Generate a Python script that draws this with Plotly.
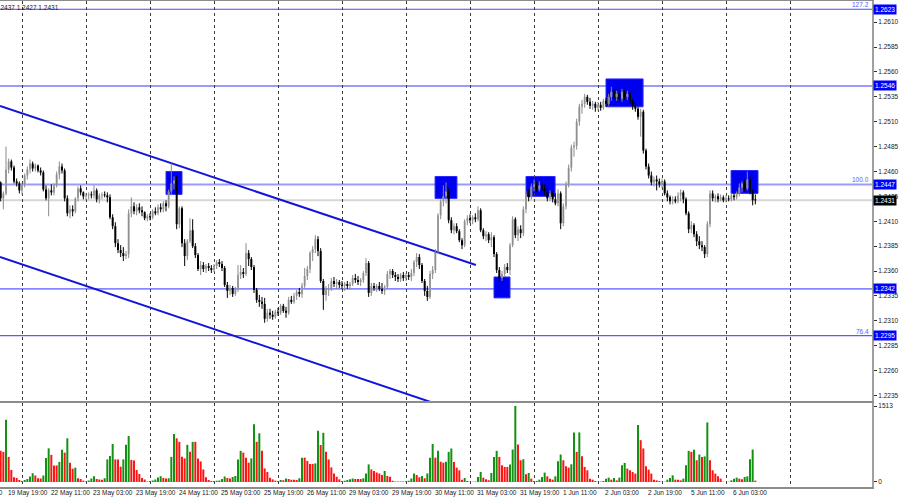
import plotly.graph_objects as go

# ---------------- data (hourly bars, index 0 = 19 May 16:00) ----------------
bars = list(range(285))

opens = [
    1.2452, 1.2449, 1.2433, 1.2438, 1.2462, 1.2470, 1.2464, 1.2450, 1.2448, 1.2441,
    1.2447, 1.2456, 1.2462, 1.2468, 1.2463, 1.2466, 1.2461, 1.2459, 1.2442, 1.2433,
    1.2441, 1.2439, 1.2446, 1.2457, 1.2465, 1.2461, 1.2433, 1.2418, 1.2422, 1.2420,
    1.2433, 1.2443, 1.2439, 1.2435, 1.2436, 1.2437, 1.2436, 1.2441, 1.2432, 1.2436,
    1.2437, 1.2436, 1.2434, 1.2414, 1.2405, 1.2388, 1.2381, 1.2378, 1.2375, 1.2377,
    1.2418, 1.2425, 1.2420, 1.2424, 1.2421, 1.2419, 1.2413, 1.2415, 1.2414, 1.2420,
    1.2418, 1.2424, 1.2422, 1.2428, 1.2425, 1.2440, 1.2448, 1.2451, 1.2407, 1.2423,
    1.2388, 1.2375, 1.2390, 1.2401, 1.2385, 1.2376, 1.2362, 1.2366, 1.2362, 1.2365,
    1.2363, 1.2361, 1.2365, 1.2369, 1.2367, 1.2363, 1.2346, 1.2340, 1.2343, 1.2337,
    1.2341, 1.2356, 1.2359, 1.2357, 1.2378, 1.2372, 1.2364, 1.2341, 1.2331, 1.2329,
    1.2327, 1.2312, 1.2318, 1.2316, 1.2314, 1.2319, 1.2318, 1.2325, 1.2320, 1.2318,
    1.2331, 1.2329, 1.2335, 1.2339, 1.2337, 1.2345, 1.2355, 1.2362, 1.2378, 1.2382,
    1.2392, 1.2380, 1.2350, 1.2336, 1.2341, 1.2343, 1.2350, 1.2347, 1.2349, 1.2346,
    1.2345, 1.2347, 1.2345, 1.2347, 1.2353, 1.2351, 1.2349, 1.2351, 1.2358, 1.2368,
    1.2338, 1.2345, 1.2343, 1.2345, 1.2342, 1.2340, 1.2344, 1.2357, 1.2360, 1.2356,
    1.2354, 1.2352, 1.2356, 1.2353, 1.2356, 1.2354, 1.2358, 1.2369, 1.2374, 1.2366,
    1.2350, 1.2340, 1.2334, 1.2357, 1.2361, 1.2380, 1.2416, 1.2430, 1.2435, 1.2440,
    1.2411, 1.2401, 1.2405, 1.2400, 1.2391, 1.2386, 1.2410, 1.2413, 1.2411, 1.2414,
    1.2412, 1.2421, 1.2401, 1.2395, 1.2397, 1.2391, 1.2394, 1.2377, 1.2361, 1.2353,
    1.2357, 1.2364, 1.2361, 1.2386, 1.2412, 1.2396, 1.2402, 1.2398, 1.2422, 1.2437,
    1.2434, 1.2445, 1.2447, 1.2442, 1.2446, 1.2443, 1.2440, 1.2433, 1.2438, 1.2432,
    1.2428, 1.2438, 1.2408, 1.2425, 1.2447, 1.2464, 1.2484, 1.2486, 1.2510, 1.2525,
    1.2528, 1.2535, 1.2530, 1.2526, 1.2528, 1.2524, 1.2527, 1.2524, 1.2531, 1.2528,
    1.2535, 1.2540, 1.2535, 1.2538, 1.2533, 1.2540, 1.2535, 1.2538, 1.2531, 1.2526,
    1.2523, 1.2515, 1.2520, 1.2481, 1.2465, 1.2456, 1.2449, 1.2452, 1.2450, 1.2447,
    1.2450, 1.2438, 1.2434, 1.2430, 1.2432, 1.2430, 1.2436, 1.2439, 1.2432, 1.2418,
    1.2402, 1.2406, 1.2397, 1.2390, 1.2386, 1.2384, 1.2377, 1.2407, 1.2438, 1.2433,
    1.2435, 1.2432, 1.2434, 1.2431, 1.2433, 1.2432, 1.2436, 1.2434, 1.2438, 1.2444,
    1.2448, 1.2443, 1.2452, 1.2440, 1.2432,
]

highs = [
    1.2456, 1.2450, 1.2440, 1.2485, 1.2473, 1.2472, 1.2466, 1.2453, 1.2450, 1.2448,
    1.2458, 1.2465, 1.2472, 1.2470, 1.2468, 1.2467, 1.2464, 1.2461, 1.2446, 1.2443,
    1.2447, 1.2448, 1.2460, 1.2470, 1.2468, 1.2463, 1.2436, 1.2426, 1.2426, 1.2434,
    1.2445, 1.2446, 1.2440, 1.2438, 1.2439, 1.2440, 1.2446, 1.2443, 1.2438, 1.2439,
    1.2440, 1.2439, 1.2437, 1.2417, 1.2409, 1.2392, 1.2386, 1.2384, 1.2380, 1.2422,
    1.2434, 1.2429, 1.2427, 1.2428, 1.2425, 1.2420, 1.2417, 1.2418, 1.2422, 1.2424,
    1.2427, 1.2428, 1.2430, 1.2431, 1.2442, 1.2468, 1.2455, 1.2456, 1.2425, 1.2425,
    1.2392, 1.2392, 1.2413, 1.2412, 1.2388, 1.2378, 1.2370, 1.2369, 1.2367, 1.2368,
    1.2366, 1.2367, 1.2371, 1.2372, 1.2370, 1.2365, 1.2349, 1.2346, 1.2345, 1.2344,
    1.2366, 1.2366, 1.2363, 1.2388, 1.2381, 1.2374, 1.2366, 1.2343, 1.2336, 1.2334,
    1.2333, 1.2322, 1.2322, 1.2320, 1.2321, 1.2323, 1.2327, 1.2327, 1.2324, 1.2334,
    1.2335, 1.2338, 1.2341, 1.2343, 1.2348, 1.2363, 1.2365, 1.2380, 1.2385, 1.2396,
    1.2395, 1.2383, 1.2352, 1.2345, 1.2347, 1.2353, 1.2354, 1.2352, 1.2351, 1.2350,
    1.2349, 1.2350, 1.2349, 1.2356, 1.2357, 1.2355, 1.2353, 1.2360, 1.2373, 1.2370,
    1.2348, 1.2348, 1.2347, 1.2349, 1.2348, 1.2346, 1.2360, 1.2362, 1.2362, 1.2359,
    1.2357, 1.2358, 1.2359, 1.2358, 1.2359, 1.2362, 1.2371, 1.2378, 1.2377, 1.2368,
    1.2352, 1.2345, 1.2360, 1.2365, 1.2382, 1.2418, 1.2432, 1.2446, 1.2449, 1.2443,
    1.2414, 1.2408, 1.2408, 1.2402, 1.2393, 1.2412, 1.2416, 1.2417, 1.2416, 1.2418,
    1.2425, 1.2423, 1.2403, 1.2400, 1.2399, 1.2399, 1.2396, 1.2379, 1.2364, 1.2360,
    1.2367, 1.2368, 1.2388, 1.2415, 1.2414, 1.2405, 1.2406, 1.2425, 1.2440, 1.2442,
    1.2448, 1.2452, 1.2450, 1.2450, 1.2449, 1.2447, 1.2444, 1.2441, 1.2440, 1.2438,
    1.2442, 1.2440, 1.2428, 1.2450, 1.2467, 1.2487, 1.2490, 1.2513, 1.2528, 1.2532,
    1.2538, 1.2537, 1.2534, 1.2531, 1.2530, 1.2530, 1.2530, 1.2533, 1.2534, 1.2538,
    1.2545, 1.2543, 1.2541, 1.2542, 1.2543, 1.2542, 1.2541, 1.2540, 1.2533, 1.2530,
    1.2525, 1.2523, 1.2522, 1.2483, 1.2468, 1.2460, 1.2455, 1.2456, 1.2453, 1.2453,
    1.2452, 1.2441, 1.2436, 1.2435, 1.2435, 1.2439, 1.2442, 1.2441, 1.2434, 1.2420,
    1.2410, 1.2408, 1.2400, 1.2395, 1.2390, 1.2386, 1.2410, 1.2441, 1.2441, 1.2437,
    1.2438, 1.2437, 1.2436, 1.2436, 1.2436, 1.2438, 1.2438, 1.2440, 1.2448, 1.2450,
    1.2452, 1.2460, 1.2455, 1.2442, 1.2437,
]

lows = [
    1.2446, 1.2430, 1.2422, 1.2436, 1.2458, 1.2461, 1.2448, 1.2445, 1.2438, 1.2437,
    1.2444, 1.2452, 1.2458, 1.2460, 1.2460, 1.2459, 1.2456, 1.2440, 1.2431, 1.2415,
    1.2436, 1.2436, 1.2444, 1.2452, 1.2458, 1.2430, 1.2415, 1.2413, 1.2415, 1.2418,
    1.2430, 1.2436, 1.2432, 1.2431, 1.2432, 1.2433, 1.2433, 1.2429, 1.2428, 1.2432,
    1.2434, 1.2429, 1.2412, 1.2402, 1.2384, 1.2378, 1.2374, 1.2370, 1.2372, 1.2373,
    1.2414, 1.2417, 1.2416, 1.2418, 1.2415, 1.2411, 1.2410, 1.2411, 1.2412, 1.2416,
    1.2416, 1.2419, 1.2419, 1.2420, 1.2423, 1.2436, 1.2442, 1.2402, 1.2403, 1.2384,
    1.2365, 1.2371, 1.2388, 1.2383, 1.2373, 1.2360, 1.2356, 1.2359, 1.2358, 1.2360,
    1.2358, 1.2359, 1.2362, 1.2364, 1.2360, 1.2344, 1.2333, 1.2336, 1.2334, 1.2335,
    1.2339, 1.2352, 1.2353, 1.2355, 1.2365, 1.2361, 1.2338, 1.2328, 1.2324, 1.2322,
    1.2308, 1.2309, 1.2312, 1.2311, 1.2312, 1.2315, 1.2316, 1.2318, 1.2313, 1.2316,
    1.2327, 1.2327, 1.2331, 1.2334, 1.2333, 1.2343, 1.2351, 1.2358, 1.2370, 1.2378,
    1.2375, 1.2348, 1.2321, 1.2330, 1.2335, 1.2340, 1.2344, 1.2342, 1.2343, 1.2342,
    1.2340, 1.2342, 1.2341, 1.2345, 1.2348, 1.2346, 1.2345, 1.2348, 1.2355, 1.2334,
    1.2335, 1.2340, 1.2339, 1.2340, 1.2337, 1.2336, 1.2342, 1.2352, 1.2353, 1.2350,
    1.2349, 1.2349, 1.2350, 1.2350, 1.2351, 1.2350, 1.2355, 1.2364, 1.2362, 1.2348,
    1.2335, 1.2330, 1.2332, 1.2352, 1.2358, 1.2377, 1.2412, 1.2425, 1.2428, 1.2408,
    1.2398, 1.2397, 1.2398, 1.2389, 1.2382, 1.2384, 1.2406, 1.2408, 1.2407, 1.2409,
    1.2410, 1.2399, 1.2392, 1.2390, 1.2388, 1.2384, 1.2374, 1.2358, 1.2350, 1.2350,
    1.2354, 1.2358, 1.2356, 1.2384, 1.2393, 1.2390, 1.2393, 1.2395, 1.2418, 1.2430,
    1.2432, 1.2440, 1.2439, 1.2440, 1.2440, 1.2436, 1.2430, 1.2430, 1.2429, 1.2426,
    1.2425, 1.2402, 1.2405, 1.2422, 1.2444, 1.2460, 1.2475, 1.2482, 1.2506, 1.2518,
    1.2524, 1.2527, 1.2523, 1.2522, 1.2520, 1.2521, 1.2521, 1.2522, 1.2525, 1.2526,
    1.2531, 1.2532, 1.2531, 1.2530, 1.2530, 1.2532, 1.2532, 1.2528, 1.2522, 1.2520,
    1.2512, 1.2495, 1.2478, 1.2462, 1.2453, 1.2446, 1.2445, 1.2441, 1.2444, 1.2443,
    1.2436, 1.2430, 1.2427, 1.2427, 1.2428, 1.2428, 1.2430, 1.2428, 1.2416, 1.2398,
    1.2398, 1.2394, 1.2385, 1.2382, 1.2380, 1.2373, 1.2374, 1.2404, 1.2430, 1.2429,
    1.2429, 1.2430, 1.2429, 1.2429, 1.2430, 1.2430, 1.2431, 1.2432, 1.2435, 1.2439,
    1.2440, 1.2441, 1.2437, 1.2426, 1.2427,
]

closes = [
    1.2449, 1.2433, 1.2438, 1.2462, 1.2470, 1.2464, 1.2450, 1.2448, 1.2441, 1.2447,
    1.2456, 1.2462, 1.2468, 1.2463, 1.2466, 1.2461, 1.2459, 1.2442, 1.2433, 1.2441,
    1.2439, 1.2446, 1.2457, 1.2465, 1.2461, 1.2433, 1.2418, 1.2422, 1.2420, 1.2433,
    1.2443, 1.2439, 1.2435, 1.2436, 1.2437, 1.2436, 1.2441, 1.2432, 1.2436, 1.2437,
    1.2436, 1.2434, 1.2414, 1.2405, 1.2388, 1.2381, 1.2378, 1.2375, 1.2377, 1.2418,
    1.2425, 1.2420, 1.2424, 1.2421, 1.2419, 1.2413, 1.2415, 1.2414, 1.2420, 1.2418,
    1.2424, 1.2422, 1.2428, 1.2425, 1.2440, 1.2448, 1.2451, 1.2407, 1.2423, 1.2388,
    1.2375, 1.2390, 1.2401, 1.2385, 1.2376, 1.2362, 1.2366, 1.2362, 1.2365, 1.2363,
    1.2361, 1.2365, 1.2369, 1.2367, 1.2363, 1.2346, 1.2340, 1.2343, 1.2337, 1.2341,
    1.2356, 1.2359, 1.2357, 1.2378, 1.2372, 1.2364, 1.2341, 1.2331, 1.2329, 1.2327,
    1.2312, 1.2318, 1.2316, 1.2314, 1.2319, 1.2318, 1.2325, 1.2320, 1.2318, 1.2331,
    1.2329, 1.2335, 1.2339, 1.2337, 1.2345, 1.2355, 1.2362, 1.2378, 1.2382, 1.2392,
    1.2380, 1.2350, 1.2336, 1.2341, 1.2343, 1.2350, 1.2347, 1.2349, 1.2346, 1.2345,
    1.2347, 1.2345, 1.2347, 1.2353, 1.2351, 1.2349, 1.2351, 1.2358, 1.2368, 1.2338,
    1.2345, 1.2343, 1.2345, 1.2342, 1.2340, 1.2344, 1.2357, 1.2360, 1.2356, 1.2354,
    1.2352, 1.2356, 1.2353, 1.2356, 1.2354, 1.2358, 1.2369, 1.2374, 1.2366, 1.2350,
    1.2340, 1.2334, 1.2357, 1.2361, 1.2380, 1.2416, 1.2430, 1.2435, 1.2440, 1.2411,
    1.2401, 1.2405, 1.2400, 1.2391, 1.2386, 1.2410, 1.2413, 1.2411, 1.2414, 1.2412,
    1.2421, 1.2401, 1.2395, 1.2397, 1.2391, 1.2394, 1.2377, 1.2361, 1.2353, 1.2357,
    1.2364, 1.2361, 1.2386, 1.2412, 1.2396, 1.2402, 1.2398, 1.2422, 1.2437, 1.2434,
    1.2445, 1.2447, 1.2442, 1.2446, 1.2443, 1.2440, 1.2433, 1.2438, 1.2432, 1.2428,
    1.2438, 1.2408, 1.2425, 1.2447, 1.2464, 1.2484, 1.2486, 1.2510, 1.2525, 1.2528,
    1.2535, 1.2530, 1.2526, 1.2528, 1.2524, 1.2527, 1.2524, 1.2531, 1.2528, 1.2535,
    1.2540, 1.2535, 1.2538, 1.2533, 1.2540, 1.2535, 1.2538, 1.2531, 1.2526, 1.2523,
    1.2515, 1.2520, 1.2481, 1.2465, 1.2456, 1.2449, 1.2452, 1.2450, 1.2447, 1.2450,
    1.2438, 1.2434, 1.2430, 1.2432, 1.2430, 1.2436, 1.2439, 1.2432, 1.2418, 1.2402,
    1.2406, 1.2397, 1.2390, 1.2386, 1.2384, 1.2377, 1.2407, 1.2438, 1.2433, 1.2435,
    1.2432, 1.2434, 1.2431, 1.2433, 1.2432, 1.2436, 1.2434, 1.2438, 1.2444, 1.2448,
    1.2443, 1.2452, 1.2440, 1.2431, 1.2431,
]

volumes = [
    700, 620, 600, 1240, 500, 240, 95, 80, 40, 20,
    40, 60, 110, 175, 130, 75, 70, 130, 480, 670,
    540, 330, 330, 400, 640, 585, 870, 385, 265, 285,
    73, 60, 27, 10, 30, 70, 115, 60, 50, 45,
    75, 450, 520, 757, 450, 450, 305, 450, 740, 916,
    440, 430, 240, 160, 80, 50, 10, 20, 30, 50,
    90, 115, 80, 70, 75, 500, 955, 870, 800, 505,
    470, 740, 600, 800, 800, 470, 410, 250, 93, 40,
    20, 20, 25, 30, 60, 110, 80, 70, 100, 120,
    450, 620, 585, 485, 385, 470, 1150, 800, 970, 620,
    270, 200, 85, 53, 27, 20, 40, 35, 70, 60,
    45, 45, 40, 75, 485, 485, 420, 360, 360, 370,
    1020, 737, 980, 600, 450, 290, 170, 105, 53, 20,
    25, 40, 55, 70, 60, 60, 60, 75, 170, 350,
    250, 220, 190, 170, 140, 220, 120, 105, 25, 10,
    10, 10, 10, 15, 25, 70, 170, 140, 95, 120,
    75, 170, 485, 757, 485, 620, 405, 385, 405, 600,
    667, 400, 287, 233, 47, 80, 20, 5, 5, 10,
    100, 200, 87, 53, 35, 180, 500, 620, 500, 333,
    300, 300, 347, 647, 1513, 747, 433, 453, 153, 180,
    67, 20, 22, 47, 100, 187, 113, 67, 47, 113,
    413, 547, 433, 313, 287, 353, 987, 600, 987, 513,
    300, 233, 67, 47, 20, 5, 8, 20, 67, 87,
    47, 80, 33, 87, 333, 380, 267, 233, 200, 167,
    1133, 833, 667, 313, 247, 167, 47, 33, 20, 3,
    5, 47, 80, 133, 47, 47, 33, 67, 333, 620,
    600, 640, 433, 547, 500, 510, 1187, 433, 233, 167,
    113, 67, 5, 2, 5, 33, 67, 87, 67, 53,
    100, 113, 453, 647, 27,
]

price_ticks = [1.2235, 1.2260, 1.2285, 1.2310, 1.2335, 1.2360, 1.2385, 1.2410,
               1.2435, 1.2460, 1.2485, 1.2510, 1.2535, 1.2560, 1.2585, 1.2610]
volume_ticks = [0, 1513]

level_prices = [1.2623, 1.2546, 1.2447, 1.2342, 1.2295]
fib_prices = [1.2623, 1.2447, 1.2295]
fib_texts = ["127.2", "100.0", "76.4"]
current_price = 1.2431
header_text = "1.2437 1.2427 1.2431"

time_labels = ["19 May 19:00", "22 May 11:00", "23 May 03:00", "23 May 19:00",
               "24 May 11:00", "25 May 03:00", "25 May 19:00", "26 May 11:00",
               "29 May 03:00", "29 May 19:00", "30 May 11:00", "31 May 03:00",
               "31 May 19:00", "1 Jun 11:00", "2 Jun 03:00", "2 Jun 19:00",
               "5 Jun 11:00", "6 Jun 03:00"]
time_label_bars = [3, 19, 35, 51, 67, 83, 99, 115, 131, 147, 163, 179,
                   195, 211, 227, 243, 259, 275]
first_cut_label = "19 May 03:00"
grid_bars = [9, 33, 57, 81, 105, 129, 153, 177, 201, 225, 249, 273, 297]

box_bar_start = [63.0, 163.9, 186.0, 198.0, 228.0, 274.9]
box_bar_end = [69.0, 172.1, 192.0, 208.9, 241.9, 285.0]
box_price_low = [1.2437, 1.2433, 1.2333, 1.2435, 1.2525, 1.2438]
box_price_high = [1.2460, 1.2455, 1.2354, 1.2455, 1.2553, 1.2461]

channel_upper_bars = [0.75, 179.2]
channel_upper_prices = [1.25258, 1.23661]
channel_lower_bars = [0.75, 175.0]
channel_lower_prices = [1.23741, 1.22169]

# ---------------- styles ----------------
FONT = "Liberation Sans, Arial, sans-serif"
FS = 6.5
level_colors = ["#4848ff", "#9a9aff", "#9a9aff", "#3030ff", "#3030ff"]
level_widths = [1, 2, 2, 1, 1]
UP_BODY = "#a8a8a8"
UP_WICK = "#8a8a8a"
DN_COLOR = "#000000"
VOL_UP = "#139113"
VOL_DN = "#ff1414"
BOX_BLUE = "#0000f0"
X_RANGE = [0.75, 327.75]

fig = go.Figure()

# channel trend lines
fig.add_trace(go.Scatter(x=channel_upper_bars, y=channel_upper_prices, mode="lines",
                         line=dict(color="#1414d8", width=2), hoverinfo="skip",
                         xaxis="x", yaxis="y"))
fig.add_trace(go.Scatter(x=channel_lower_bars, y=channel_lower_prices, mode="lines",
                         line=dict(color="#1414d8", width=2), hoverinfo="skip",
                         xaxis="x", yaxis="y"))

# candles
up_idx = [i for i in bars if closes[i] >= opens[i]]
dn_idx = [i for i in bars if closes[i] < opens[i]]


def wick_xy(idx):
    xs, ys = [], []
    for i in idx:
        xs += [bars[i], bars[i], None]
        ys += [lows[i], highs[i], None]
    return xs, ys


ux, uy = wick_xy(up_idx)
dx, dy = wick_xy(dn_idx)
fig.add_trace(go.Scatter(x=ux, y=uy, mode="lines", line=dict(color=UP_WICK, width=1),
                         hoverinfo="skip", xaxis="x", yaxis="y"))
fig.add_trace(go.Scatter(x=dx, y=dy, mode="lines", line=dict(color=DN_COLOR, width=1),
                         hoverinfo="skip", xaxis="x", yaxis="y"))

MIN_BODY = 0.00008
fig.add_trace(go.Bar(x=[bars[i] for i in up_idx],
                     y=[max(abs(closes[i] - opens[i]), MIN_BODY) for i in up_idx],
                     base=[min(opens[i], closes[i]) for i in up_idx],
                     width=0.75, marker=dict(color=UP_BODY, line=dict(width=0)),
                     hoverinfo="skip", xaxis="x", yaxis="y"))
fig.add_trace(go.Bar(x=[bars[i] for i in dn_idx],
                     y=[max(abs(closes[i] - opens[i]), MIN_BODY) for i in dn_idx],
                     base=[min(opens[i], closes[i]) for i in dn_idx],
                     width=0.75, marker=dict(color=DN_COLOR, line=dict(width=0)),
                     hoverinfo="skip", xaxis="x", yaxis="y"))

# volumes (green when volume rises vs previous bar)
vol_colors = [VOL_UP if (i == 0 or volumes[i] > volumes[i - 1]) else VOL_DN for i in bars]
fig.add_trace(go.Bar(x=bars, y=volumes, width=0.75,
                     marker=dict(color=vol_colors, line=dict(width=0)),
                     hoverinfo="skip", xaxis="x2", yaxis="y2"))

shapes = []
# blue zones
for x0, x1, y0, y1 in zip(box_bar_start, box_bar_end, box_price_low, box_price_high):
    shapes.append(dict(type="rect", xref="x", yref="y", x0=x0, x1=x1, y0=y0, y1=y1,
                       fillcolor=BOX_BLUE, line=dict(color="#2a2aff", width=1), layer="below"))
# current price line
shapes.append(dict(type="line", xref="paper", yref="y", x0=0, x1=1,
                   y0=current_price, y1=current_price,
                   line=dict(color="#d6d6d6", width=2), layer="below"))
# horizontal levels
for p, c, w in zip(level_prices, level_colors, level_widths):
    shapes.append(dict(type="line", xref="paper", yref="y", x0=0, x1=1, y0=p, y1=p,
                       line=dict(color=c, width=w), layer="below"))

annotations = []
# price boxes on the axis
for p in level_prices:
    annotations.append(dict(xref="paper", yref="y", x=1, y=p, xanchor="left", yanchor="middle",
                            xshift=1, text=f"{p:.4f}", showarrow=False, bgcolor="#0000ff",
                            borderpad=1, font=dict(family=FONT, size=FS, color="white")))
annotations.append(dict(xref="paper", yref="y", x=1, y=current_price, xanchor="left",
                        yanchor="middle", xshift=1, text=f"{current_price:.4f}",
                        showarrow=False, bgcolor="#000000", borderpad=1,
                        font=dict(family=FONT, size=FS, color="white")))
# fibo labels
for p, t in zip(fib_prices, fib_texts):
    annotations.append(dict(xref="paper", yref="y", x=1, y=p, xanchor="right", yanchor="bottom",
                            xshift=-1, yshift=-1, text=t, showarrow=False,
                            font=dict(family=FONT, size=FS, color="#5a5aff")))
# header
annotations.append(dict(xref="paper", yref="paper", x=0, y=1, xanchor="left", yanchor="top",
                        xshift=-7, yshift=-1, text=header_text, showarrow=False,
                        font=dict(family=FONT, size=FS, color="#202020")))
# time labels
for b, t in zip(time_label_bars, time_labels):
    annotations.append(dict(xref="x2", yref="paper", x=b, y=0, xanchor="left", yanchor="top",
                            xshift=0, text=t, showarrow=False,
                            font=dict(family=FONT, size=FS, color="#202020")))
annotations.append(dict(xref="paper", yref="paper", x=0, y=0, xanchor="right", yanchor="top",
                        xshift=5, text=first_cut_label, showarrow=False,
                        font=dict(family=FONT, size=FS, color="#202020")))

axis_common = dict(showgrid=True, gridcolor="#3c3c3c", griddash="dot", gridwidth=1,
                   zeroline=False, showline=True, mirror=True, linecolor="#8c8c8c",
                   linewidth=1.5, showticklabels=False, ticks="", automargin=False,
                   fixedrange=True)

fig.update_layout(
    template="none",
    width=900, height=500,
    margin=dict(l=0, r=28, t=1, b=13, pad=0),
    paper_bgcolor="white", plot_bgcolor="white",
    showlegend=False, barmode="overlay", hovermode=False,
    font=dict(family=FONT, size=FS, color="#202020"),
    xaxis=dict(domain=[0, 1], range=X_RANGE, anchor="y", tickmode="array",
               tickvals=grid_bars, **axis_common),
    xaxis2=dict(domain=[0, 1], range=X_RANGE, anchor="y2", tickmode="array",
                tickvals=grid_bars, **axis_common),
    yaxis=dict(domain=[0.17695, 1], range=[1.22294, 1.26313], side="right", anchor="x",
               tickmode="array", tickvals=price_ticks,
               ticktext=[f"{v:.4f}" for v in price_ticks],
               ticks="outside", ticklen=3, tickcolor="#303030", tickwidth=1,
               showgrid=False, zeroline=False, showline=True, linecolor="#a0a0a0",
               linewidth=2, automargin=False, fixedrange=True,
               tickfont=dict(family=FONT, size=FS, color="#202020")),
    yaxis2=dict(domain=[0, 0.17284], range=[-99.5, 1573], side="right", anchor="x2",
                tickmode="array", tickvals=volume_ticks,
                ticktext=[str(v) for v in volume_ticks],
                ticks="outside", ticklen=3, tickcolor="#303030", tickwidth=1,
                showgrid=False, zeroline=False, showline=True, linecolor="#a0a0a0",
                linewidth=2, automargin=False, fixedrange=True,
                tickfont=dict(family=FONT, size=FS, color="#202020")),
    shapes=shapes,
    annotations=annotations,
)

fig.write_html(
    "out.html",
    config={"displayModeBar": False, "staticPlot": True},
    post_script="document.body.style.margin='0';document.body.style.overflow='hidden';",
)
